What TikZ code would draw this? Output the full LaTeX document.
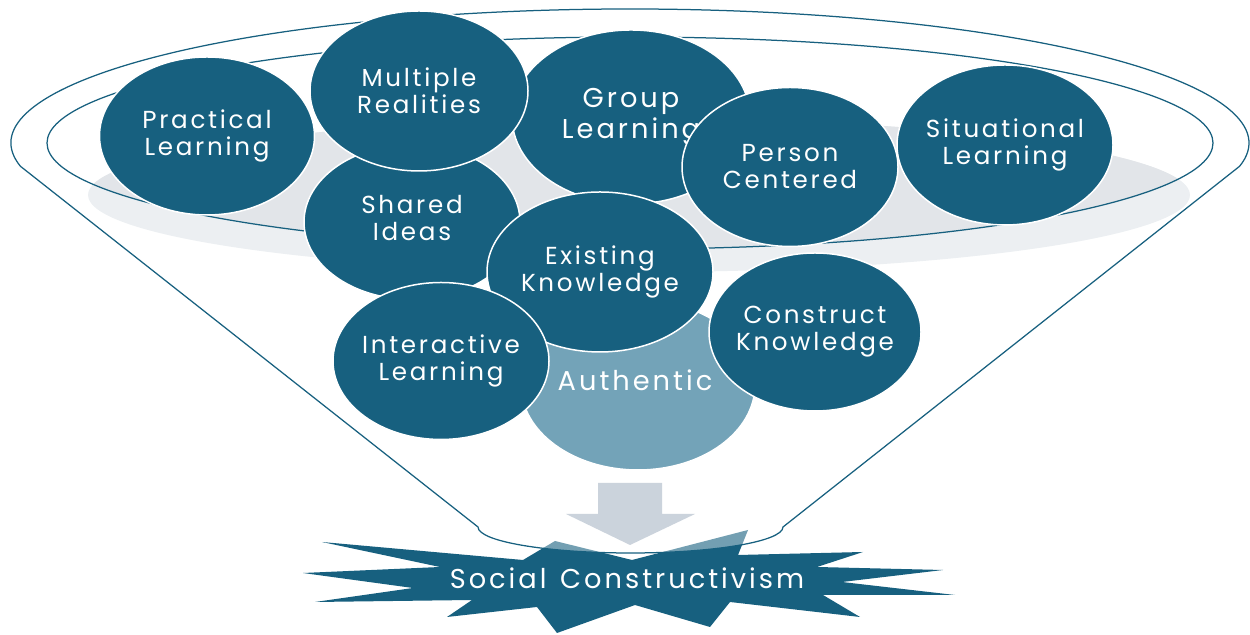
\documentclass[tikz,border=0pt]{standalone}
\usepackage{fontspec}
\setmainfont{Poppins}[LetterSpace=11]
\usetikzlibrary{shapes.geometric}

\definecolor{deepteal}{HTML}{17607F}
\definecolor{paleteal}{HTML}{73A3B8}
\definecolor{shadowgray}{HTML}{E2E5E9}
\definecolor{mistgray}{HTML}{ECEFF2}
\definecolor{arrowgray}{HTML}{CBD3DC}

\tikzset{
  bubble/.style={ellipse, fill=deepteal, draw=white, line width=0.3mm, inner sep=0pt},
  bubbletext/.style={text=white, align=center, font=\fontsize{14}{15.4}\selectfont},
  funnel/.style={draw=deepteal, line width=0.25mm},
}

\begin{document}
\begin{tikzpicture}[x=0.2mm, y=0.2mm]
\useasboundingbox (0,0) rectangle (1250,635);
% burst at the bottom
\fill[deepteal] (322,93) -- (523,75) -- (555,94) -- (632,75) -- (748,105) -- (738,80)
  -- (863,83) -- (817,68) -- (943,65) -- (842,53) -- (955,40) -- (823,40)
  -- (860,18) -- (730,33) -- (710,8) -- (635,30) -- (557,2) -- (537,28)
  -- (447,18) -- (472,35) -- (315,33) -- (413,47) -- (303,62) -- (440,68) -- cycle;
% funnel
\draw[funnel, fill=white, fill opacity=0.4] (630,492) ++(190:619 and 134)
  arc[start angle=190, end angle=-10, x radius=619, y radius=134]
  -- (783,108) arc[start angle=0, end angle=-180, x radius=152.5, y radius=26] -- cycle;
% shadow on the rim
\fill[mistgray] (639,440) ellipse[x radius=551, y radius=77];
\begin{scope}
  \clip (630,492) ellipse[x radius=583, y radius=106];
  \fill[shadowgray] (639,440) ellipse[x radius=551, y radius=77];
\end{scope}
\draw[funnel] (630,492) ellipse[x radius=583, y radius=106];
% arrow
\fill[arrowgray] (598,152) -- (662,152) -- (662,121) -- (695,121) -- (630,90)
  -- (566,121) -- (598,121) -- cycle;
% bubbles
\node[bubble, fill=paleteal, minimum width=46.8mm, minimum height=34mm] (au) at (638,250) {};
\node[bubbletext, font=\fontsize{15.5}{17}\selectfont] (au-t) at (635,255) {Authentic};
\node[bubble, minimum width=47.6mm, minimum height=34.8mm] (gl) at (631,518) {};
\node[bubbletext, font=\fontsize{15.5}{17.4}\selectfont] (gl-t) at (gl) {Group\\Learning};
\node[bubble, minimum width=43.2mm, minimum height=31mm] (si) at (412,413) {};
\node[bubbletext] (si-t) at (412,417) {Shared\\Ideas};
\node[bubble, minimum width=43mm, minimum height=31.6mm] (pl) at (207,499) {};
\node[bubbletext] (pl-t) at (pl) {Practical\\Learning};
\node[bubble, minimum width=43.6mm, minimum height=32mm] (mr) at (419,544) {};
\node[bubbletext] (mr-t) at (mr) {Multiple\\Realities};
\node[bubble, minimum width=43.2mm, minimum height=31.8mm] (pc) at (790,468) {};
\node[bubbletext] (pc-t) at (pc) {Person\\Centered};
\node[bubble, minimum width=43.2mm, minimum height=32mm] (sl) at (1005,490) {};
\node[bubbletext] (sl-t) at (sl) {Situational\\Learning};
\node[bubble, minimum width=45.2mm, minimum height=32mm] (ek) at (600,363) {};
\node[bubbletext] (ek-t) at (ek) {Existing\\Knowledge};
\node[bubble, minimum width=43.2mm, minimum height=31.4mm] (il) at (441,274) {};
\node[bubbletext] (il-t) at (il) {Interactive\\Learning};
\node[bubble, minimum width=42.4mm, minimum height=31.6mm] (ck) at (815,303) {};
\node[bubbletext] (ck-t) at (ck) {Construct\\Knowledge};
% label on the burst
\node[text=white, font=\fontsize{15.5}{18}\selectfont] (sc) at (627,57) {Social\hspace{0.5em}Constructivism};
\end{tikzpicture}
\end{document}
